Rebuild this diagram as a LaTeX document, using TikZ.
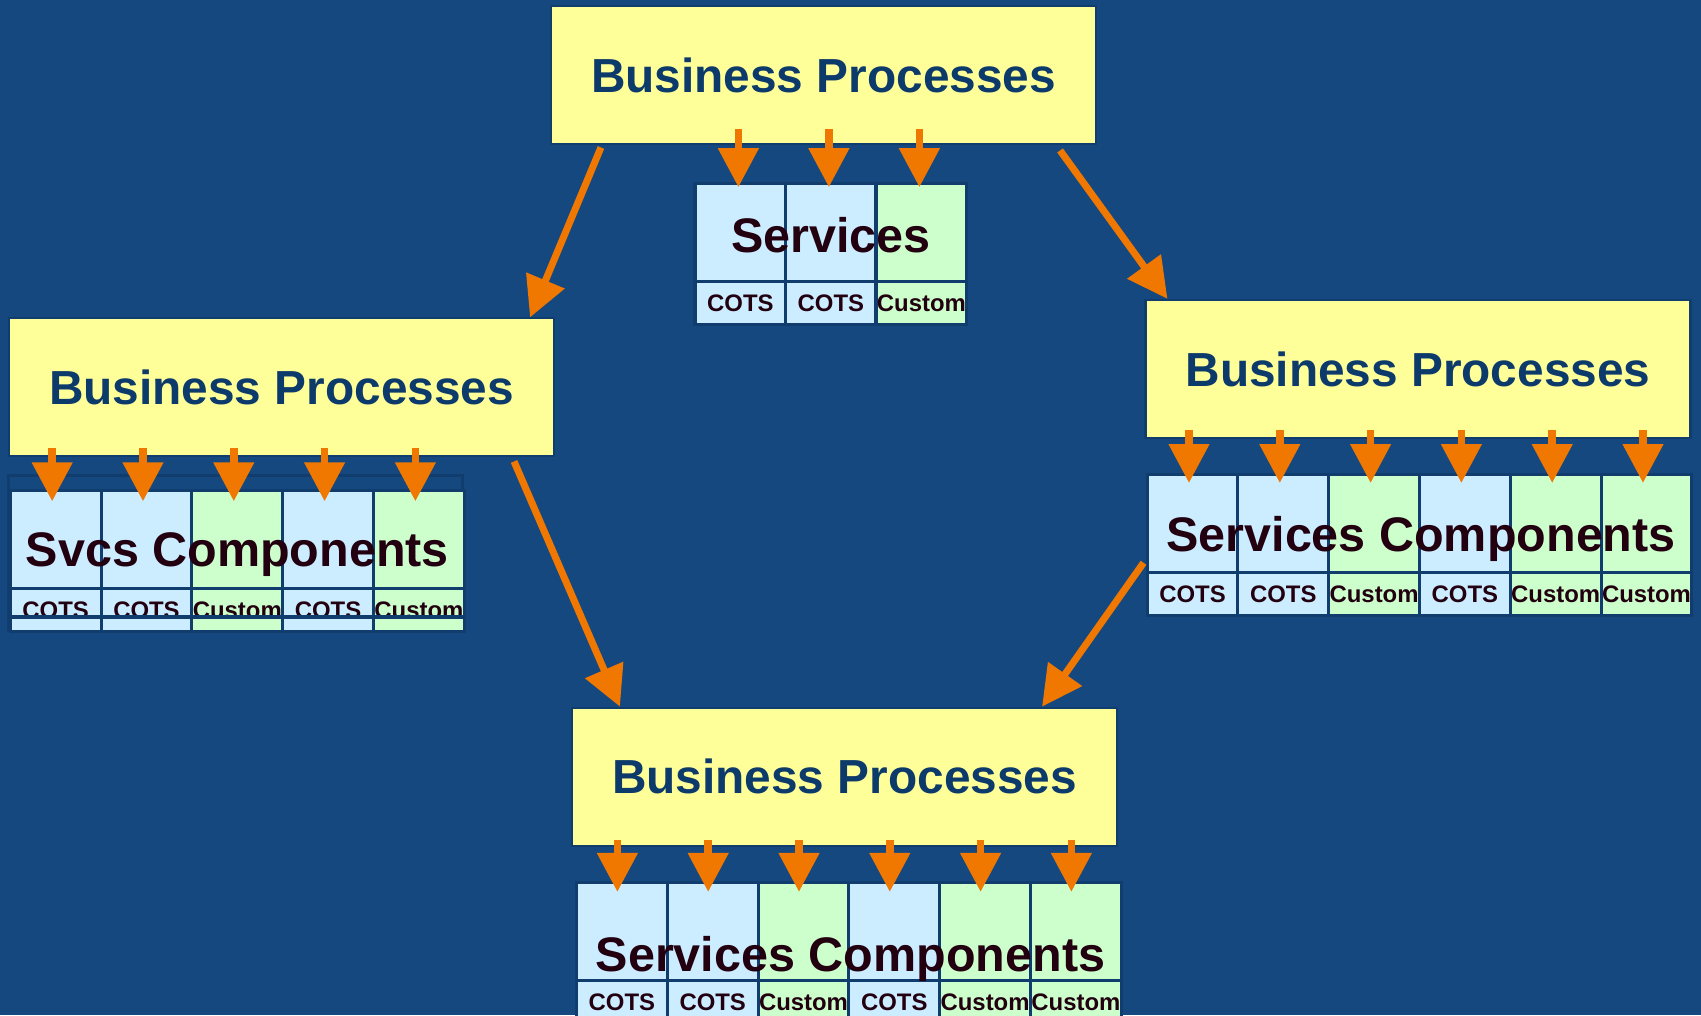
\documentclass[tikz,border=0pt]{standalone}
\usepackage{fontspec}
\setmainfont{Liberation Sans}
\usetikzlibrary{arrows.meta,positioning}

\definecolor{bgblue}{RGB}{21,72,127}
\definecolor{bpyellow}{RGB}{255,255,153}
\definecolor{bptext}{RGB}{12,58,106}
\definecolor{cotsblue}{RGB}{204,236,255}
\definecolor{customgreen}{RGB}{204,255,204}
\definecolor{comptext}{RGB}{34,0,16}
\definecolor{arroworange}{RGB}{240,120,0}
\definecolor{cellline}{RGB}{16,60,110}

\tikzset{
  bp/.style={rectangle,fill=bpyellow,draw=cellline,line width=0.6pt,minimum width=5.45cm,minimum height=1.38cm,inner sep=0pt,text=bptext,font=\bfseries\fontsize{13.6}{16}\selectfont},
  upper/.style={rectangle,draw=cellline,line width=0.9pt,anchor=north west,minimum width=0.908cm,minimum height=0.976cm,inner sep=0pt},
  lower/.style={upper,minimum height=0.434cm,text=comptext,font=\bfseries\fontsize{6.8}{8}\selectfont},
  bigtext/.style={anchor=base,inner sep=0pt,text=comptext,font=\bfseries\fontsize{13.8}{16}\selectfont},
  feed/.style={draw=arroworange,line width=2.2pt,-{Triangle[length=3.9mm,width=3.9mm]}},
  link/.style={draw=arroworange,line width=2pt,-{Triangle[length=4mm,width=4mm]}},
}

\begin{document}
\begin{tikzpicture}
  \useasboundingbox (0,0) rectangle (17.01,-10.15);
  \fill[bgblue] (0,0) rectangle (17.01,-10.15);

  % business process boxes
  \node[bp] (bpTop) at (8.235,-0.754) {Business Processes};
  \node[bp] (bpLeft) at (2.815,-3.874) {Business Processes};
  \node[bp] (bpRight) at (14.18,-3.689) {Business Processes};
  \node[bp] (bpBottom) at (8.445,-7.767) {Business Processes};

  % top services
  \foreach \i/\c/\lab in {0/cotsblue/COTS,1/cotsblue/COTS,2/customgreen/Custom} {
    \node[upper,fill=\c] (s\i) at (6.934+\i*0.905,-1.822) {};
    \node[lower,fill=\c] (sl\i) at (6.934+\i*0.905,-2.798) {\lab};
    \draw[feed] ([xshift=-0.2mm,yshift=1.6mm]bpTop.south -| s\i.north) -- ([xshift=-0.2mm,yshift=-0.5mm]s\i.north);
  }
  \node[bigtext] (svcTop) at ([yshift=-7.05mm]s1.north) {Services};

  % left svcs components
  \draw[cellline,line width=0.9pt] (0.087,-4.751) rectangle (4.627,-6.303);
  \foreach \i/\c/\lab in {0/cotsblue/COTS,1/cotsblue/COTS,2/customgreen/Custom,3/cotsblue/COTS,4/customgreen/Custom} {
    \node[upper,fill=\c] (l\i) at (0.087+\i*0.908,-4.893) {};
    \node[lower,fill=\c] (ll\i) at (0.087+\i*0.908,-5.869) {\lab};
    \draw[feed] ([xshift=-0.35mm,yshift=0.9mm]bpLeft.south -| l\i.north) -- ([xshift=-0.35mm,yshift=-1.2mm]l\i.north);
  }
  \draw[cellline,line width=0.9pt] (ll0.west |- 0,-6.17) -- (ll4.east |- 0,-6.17);
  \node[bigtext] (svcLeft) at ([yshift=-7.7mm]l2.north) {Svcs Components};

  % right services components
  \foreach \i/\c/\lab in {0/cotsblue/COTS,1/cotsblue/COTS,2/customgreen/Custom,3/cotsblue/COTS,4/customgreen/Custom,5/customgreen/Custom} {
    \node[upper,fill=\c] (r\i) at (11.455+\i*0.908,-4.730) {};
    \node[lower,fill=\c] (rl\i) at (11.455+\i*0.908,-5.706) {\lab};
    \draw[feed] ([xshift=-0.35mm,yshift=0.9mm]bpRight.south -| r\i.north) -- ([xshift=-0.35mm,yshift=-1.0mm]r\i.north);
  }
  \node[bigtext] (svcRight) at ([yshift=-7.8mm]r2.north east) {Services Components};

  % bottom services components
  \foreach \i/\c/\lab in {0/cotsblue/COTS,1/cotsblue/COTS,2/customgreen/Custom,3/cotsblue/COTS,4/customgreen/Custom,5/customgreen/Custom} {
    \node[upper,fill=\c] (b\i) at (5.749+\i*0.908,-8.809) {};
    \node[lower,fill=\c] (bl\i) at (5.749+\i*0.908,-9.785) {\lab};
    \draw[feed] ([xshift=-0.45mm,yshift=0.7mm]bpBottom.south -| b\i.north) -- ([xshift=-0.45mm,yshift=-1.1mm]b\i.north);
  }
  \node[bigtext] (svcBottom) at ([yshift=-9.1mm]b2.north east) {Services Components};

  % links between the levels
  \draw[link] ([xshift=5.1mm,yshift=-0.2mm]bpTop.south west) -- ([xshift=-2.5mm]bpLeft.north east);
  \draw[link] ([xshift=-3.7mm,yshift=-0.5mm]bpTop.south east) -- ([xshift=2.3mm]bpRight.north west);
  \draw[link] ([xshift=-4.1mm,yshift=-0.4mm]bpLeft.south east) -- ([xshift=4.9mm]bpBottom.north west);
  \draw[link] ([xshift=-0.2mm,yshift=1.1mm]r0.south west) -- ([xshift=-7.6mm]bpBottom.north east);
\end{tikzpicture}
\end{document}
